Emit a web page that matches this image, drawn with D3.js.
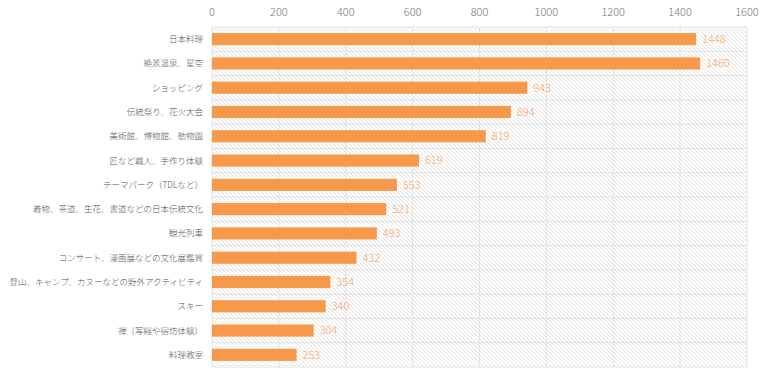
<!DOCTYPE html>
<html>
<head>
<meta charset="utf-8">
<script src="https://cdn.jsdelivr.net/npm/d3@7"></script>
<style>
  body { margin: 0; background: #fff; }
  text { font-family: "Noto Sans CJK JP", "Noto Sans", sans-serif; font-weight: 300; }
</style>
</head>
<body>
<div class="chart"></div>
<script>
// Data
const categories = [
  "日本料理", "絶景温泉、星空", "ショッピング", "伝統祭り、花火大会",
  "美術館、博物館、動物園", "匠など職人、手作り体験", "テーマパーク（TDLなど）",
  "着物、茶道、生花、書道などの日本伝統文化", "観光列車", "コンサート、漫画展などの文化展鑑賞",
  "登山、キャンプ、カヌーなどの野外アクティビティ", "スキー", "禅（写経や宿坊体験）", "料理教室"
];
const values = [1448, 1460, 943, 894, 819, 619, 553, 521, 493, 432, 354, 340, 304, 253];
const xTicks = [0, 200, 400, 600, 800, 1000, 1200, 1400, 1600];

const width = 768;
const height = 377;
const margin = { top: 27, right: 21, bottom: 10, left: 212 };
const innerWidth = width - margin.left - margin.right;
const innerHeight = height - margin.top - margin.bottom;

const svg = d3.select(".chart")
  .append("svg")
  .attr("width", width)
  .attr("height", height);

// Hatched background pattern
const pattern = svg.append("defs").append("pattern")
  .attr("id", "hatch")
  .attr("patternUnits", "userSpaceOnUse")
  .attr("width", 4)
  .attr("height", 4);
pattern.append("rect").attr("width", 4).attr("height", 4).attr("fill", "#fff");
pattern.append("path")
  .attr("d", "M-1,-1 L5,5 M-1,3 L1,5 M3,-1 L5,1")
  .attr("stroke", "#dcdcdc")
  .attr("stroke-width", 0.8);

const chart = svg.append("g")
  .attr("transform", `translate(${margin.left}, ${margin.top})`);

const x = d3.scaleLinear().domain([0, 1600]).range([0, innerWidth]);
const y = d3.scaleBand().domain(categories).range([0, innerHeight]).paddingInner(0.5).paddingOuter(0.25);

// Plot background
chart.append("rect")
  .attr("width", innerWidth)
  .attr("height", innerHeight)
  .attr("fill", "url(#hatch)");

// Vertical gridlines
chart.append("g")
  .selectAll("line")
  .data(xTicks)
  .join("line")
  .attr("x1", d => x(d))
  .attr("x2", d => x(d))
  .attr("y1", 0)
  .attr("y2", innerHeight)
  .attr("stroke", "#e2e2e2")
  .attr("stroke-width", 1);

// Horizontal gridlines at band boundaries
const step = innerHeight / categories.length;
chart.append("g")
  .selectAll("line")
  .data(d3.range(categories.length + 1))
  .join("line")
  .attr("x1", 0)
  .attr("x2", innerWidth)
  .attr("y1", d => d * step)
  .attr("y2", d => d * step)
  .attr("stroke", "#e2e2e2")
  .attr("stroke-width", 1);

// Bars
chart.append("g")
  .selectAll("rect")
  .data(values)
  .join("rect")
  .attr("x", 0)
  .attr("y", (d, i) => y(categories[i]))
  .attr("width", d => x(d))
  .attr("height", y.bandwidth())
  .attr("fill", "#f8984a");

// Value labels
chart.append("g")
  .selectAll("text")
  .data(values)
  .join("text")
  .attr("x", d => x(d) + 6)
  .attr("y", (d, i) => y(categories[i]) + y.bandwidth() / 2)
  .attr("dy", "0.35em")
  .attr("font-size", 11)
  .attr("fill", "#f9a35f")
  .text(d => d);

// Top axis labels (plain text, drawn with the axis scale)
chart.append("g")
  .selectAll("text")
  .data(xTicks)
  .join("text")
  .attr("x", d => x(d))
  .attr("y", -11)
  .attr("text-anchor", "middle")
  .attr("font-size", 11)
  .attr("fill", "#777")
  .text(d3.format("d"));

// Category labels
chart.append("g")
  .selectAll("text")
  .data(categories)
  .join("text")
  .attr("x", -9)
  .attr("y", d => y(d) + y.bandwidth() / 2)
  .attr("dy", "0.35em")
  .attr("text-anchor", "end")
  .attr("font-size", 8.5)
  .attr("fill", "#555")
  .text(d => d);
</script>
</body>
</html>
